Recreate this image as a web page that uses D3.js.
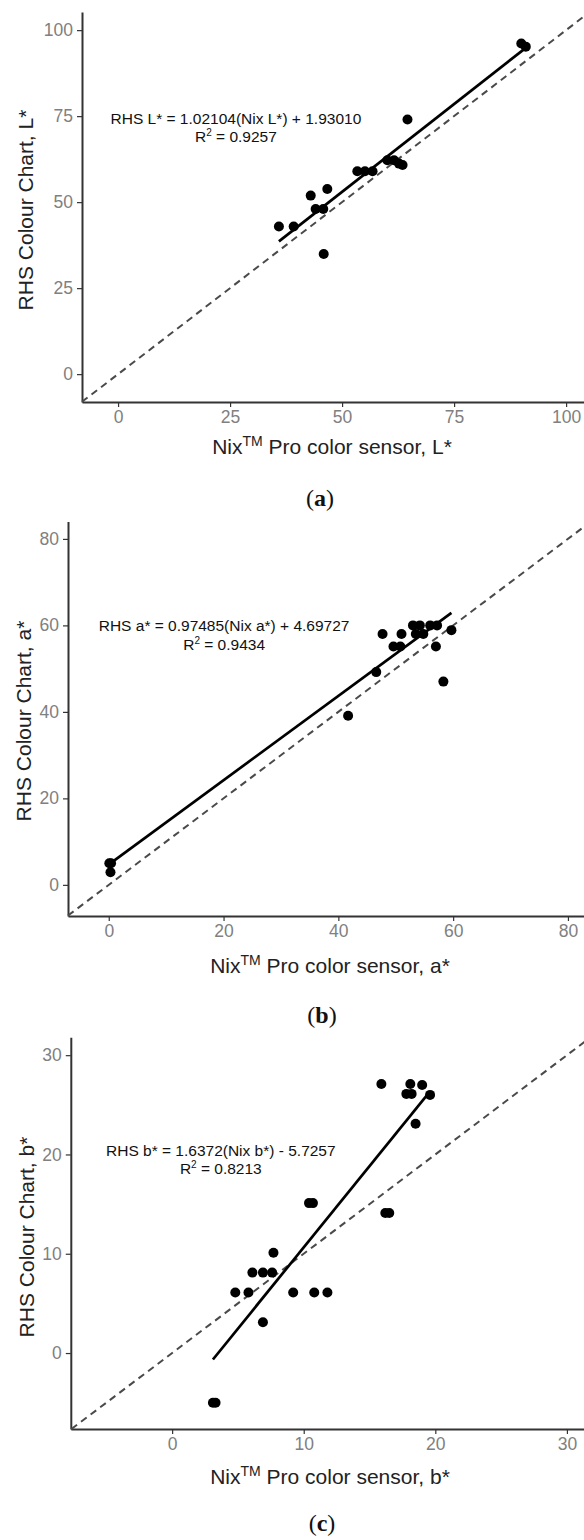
<!DOCTYPE html>
<html><head><meta charset="utf-8">
<script src="https://cdn.jsdelivr.net/npm/d3@7"></script>
<style>body{margin:0;background:#fff} svg{display:block;background:#fff}</style>
</head><body><svg id="chart" width="584" height="1540"></svg>
<script>
// ---------- DATA ----------
const panelIds = ["a", "b", "c"];
const channelNames = ["L*", "a*", "b*"];

const lNix = [90.0, 91.0, 64.6, 53.4, 55.1, 56.8, 60.1, 61.6, 62.7, 63.5, 43.0, 46.7, 44.1, 45.8, 35.9, 39.2, 45.9];
const lRHS = [96.1, 95.2, 74.0, 59.0, 59.0, 59.0, 62.2, 62.2, 61.2, 60.8, 51.9, 53.8, 48.0, 48.0, 42.9, 42.9, 34.9];

const aNix = [0.1, 0.4, 0.3, 41.7, 46.6, 47.7, 49.6, 50.8, 51.0, 53.5, 54.8, 53.0, 54.2, 56.0, 57.2, 57.0, 58.3, 59.7];
const aRHS = [5.0, 5.0, 2.9, 39.1, 49.2, 58.0, 55.1, 55.1, 58.0, 58.0, 58.0, 60.0, 60.0, 60.0, 60.0, 55.1, 47.0, 58.9];

const bNix = [3.1, 3.3, 6.9, 4.8, 5.8, 9.2, 10.8, 11.8, 6.1, 6.9, 7.6, 7.7, 10.4, 10.7, 16.2, 16.5, 15.9, 18.1, 19.0, 17.8, 18.2, 19.6, 18.5];
const bRHS = [-5.0, -5.0, 3.1, 6.1, 6.1, 6.1, 6.1, 6.1, 8.1, 8.1, 8.1, 10.1, 15.1, 15.1, 14.1, 14.1, 27.1, 27.1, 27.0, 26.1, 26.1, 26.0, 23.1];

const slopes = [1.02104, 0.97485, 1.6372];
const intercepts = [1.93010, 4.69727, -5.7257];
const equationTexts = [
  "RHS L* = 1.02104(Nix L*) + 1.93010",
  "RHS a* = 0.97485(Nix a*) + 4.69727",
  "RHS b* = 1.6372(Nix b*) - 5.7257"
];
const r2Values = ["0.9257", "0.9434", "0.8213"];
const equationAt = [[26.3, 74.4], [20.1, 59.9], [3.7, 20.4]];

const xTicks = [[0, 25, 50, 75, 100], [0, 20, 40, 60, 80], [0, 10, 20, 30]];
const yTicks = [[0, 25, 50, 75, 100], [0, 20, 40, 60, 80], [0, 10, 20, 30]];
const xDomains = [[-8.05, 105], [-7.1, 84], [-7.7, 31.8]];
const yDomains = [[-8.1, 105.3], [-7.2, 84], [-7.65, 31.8]];

// ---------- LAYOUT (pixels) ----------
const layout = [
  {xr: [82, 588.5], yr: [402, 11.9], xTitle: [332, 454], yTitle: [33, 210], label: [320, 506]},
  {xr: [68, 590.9], yr: [916, 521.6], xTitle: [330, 973], yTitle: [31, 721], label: [322, 1023]},
  {xr: [70.8, 590.6], yr: [1429, 1037.3], xTitle: [330, 1484], yTitle: [34, 1237], label: [322, 1531]}
];

const xsAll = [lNix, aNix, bNix];
const ysAll = [lRHS, aRHS, bRHS];

const FONT = "'Liberation Sans', Arial, Helvetica, sans-serif";
const svg = d3.select("#chart");

panelIds.forEach((id, i) => {
  const L = layout[i];
  const x = d3.scaleLinear().domain(xDomains[i]).range(L.xr);
  const y = d3.scaleLinear().domain(yDomains[i]).range(L.yr);
  const g = svg.append("g");

  // axes
  const yAxis = g.append("g").attr("transform", `translate(${L.xr[0]},0)`)
    .call(d3.axisLeft(y).tickValues(yTicks[i]).tickSize(5).tickSizeOuter(0).tickPadding(4));
  const xAxis = g.append("g").attr("transform", `translate(0,${L.yr[0]})`)
    .call(d3.axisBottom(x).tickValues(xTicks[i]).tickSize(5).tickSizeOuter(0).tickPadding(4));
  [yAxis, xAxis].forEach(ax => {
    ax.select(".domain").attr("stroke", "#333").attr("stroke-width", 2);
    ax.selectAll(".tick line").attr("stroke", "#333").attr("stroke-width", 1.2);
    ax.selectAll(".tick text").attr("fill", "#808080").style("font-family", FONT).style("font-size", "17.5px");
  });

  // identity dashed line
  const lo = Math.max(xDomains[i][0], yDomains[i][0]);
  const hi = Math.min(xDomains[i][1], yDomains[i][1]);
  g.append("line")
    .attr("x1", x(lo)).attr("y1", y(lo)).attr("x2", x(hi)).attr("y2", y(hi))
    .attr("stroke", "#4a4a4a").attr("stroke-width", 2).attr("stroke-dasharray", "7,5");

  // points
  const pts = xsAll[i].map((v, k) => [v, ysAll[i][k]]);
  g.selectAll("circle.pt").data(pts).enter().append("circle")
    .attr("cx", d => x(d[0])).attr("cy", d => y(d[1])).attr("r", 5).attr("fill", "#000");

  // regression line over data extent
  const ext = d3.extent(xsAll[i]);
  g.append("line")
    .attr("x1", x(ext[0])).attr("y1", y(slopes[i] * ext[0] + intercepts[i]))
    .attr("x2", x(ext[1])).attr("y2", y(slopes[i] * ext[1] + intercepts[i]))
    .attr("stroke", "#000").attr("stroke-width", 2.7);

  // equation
  const ex = x(equationAt[i][0]), ey = y(equationAt[i][1]);
  g.append("text").attr("x", ex).attr("y", ey + 5.5).attr("text-anchor", "middle")
    .style("font-family", FONT).style("font-size", "15.5px").attr("fill", "#111")
    .text(equationTexts[i]);
  const r2 = g.append("text").attr("x", ex).attr("y", ey + 24).attr("text-anchor", "middle")
    .style("font-family", FONT).style("font-size", "15.5px").attr("fill", "#111");
  r2.append("tspan").text("R");
  r2.append("tspan").attr("dy", -6).style("font-size", "10px").text("2");
  r2.append("tspan").attr("dy", 6).text(" = " + r2Values[i]);

  // x title
  const xt = g.append("text").attr("x", L.xTitle[0]).attr("y", L.xTitle[1]).attr("text-anchor", "middle")
    .style("font-family", FONT).style("font-size", "21px").attr("fill", "#222");
  xt.append("tspan").text("Nix");
  xt.append("tspan").attr("dy", -8).style("font-size", "14px").text("TM");
  xt.append("tspan").attr("dy", 8).text(" Pro color sensor, " + channelNames[i]);

  // y title
  g.append("text").attr("transform", `translate(${L.yTitle[0]},${L.yTitle[1]}) rotate(-90)`)
    .attr("text-anchor", "middle")
    .style("font-family", FONT).style("font-size", "21px").attr("fill", "#222")
    .text("RHS Colour Chart, " + channelNames[i]);

  // panel label
  const lab = g.append("text").attr("x", L.label[0]).attr("y", L.label[1]).attr("text-anchor", "middle")
    .style("font-family", "'Liberation Serif', 'Times New Roman', serif").style("font-size", "24px").attr("fill", "#111");
  lab.append("tspan").text("(");
  lab.append("tspan").style("font-weight", "bold").text(id);
  lab.append("tspan").text(")");
});
</script>
</body></html>
